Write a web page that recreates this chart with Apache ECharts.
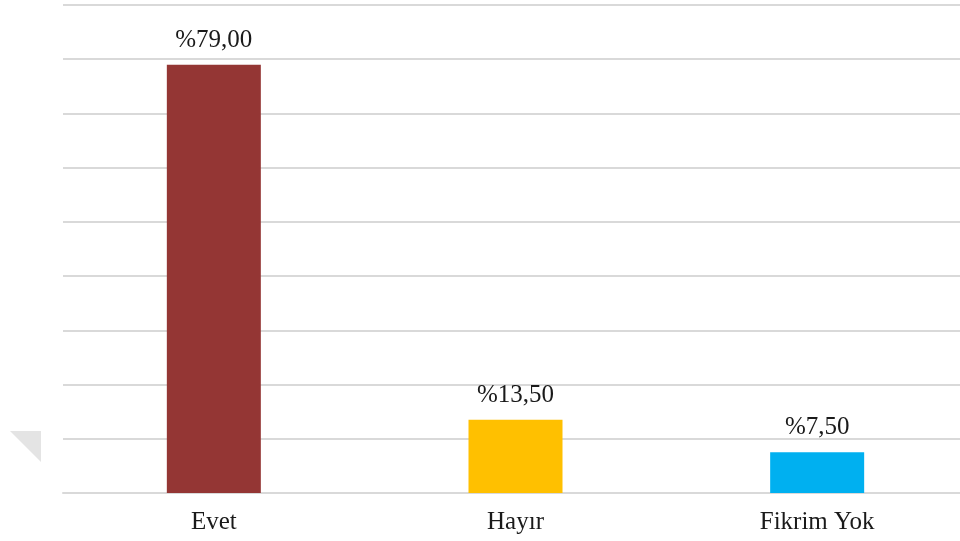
<!DOCTYPE html>
<html>
<head>
<meta charset="utf-8">
<script src="https://cdn.jsdelivr.net/npm/echarts@6/dist/echarts.min.js"></script>
<style>
  html, body { margin: 0; padding: 0; background: #ffffff; }
  #chart { width: 960px; height: 541px; }
</style>
</head>
<body>
<div id="chart"></div>
<script>
// Survey answers and their percentage shares
const categories = ['Evet', 'Hayır', 'Fikrim Yok'];
const values = [79.00, 13.50, 7.50];
const barColors = ['#943634', '#FFC000', '#00B0F0'];

const chart = echarts.init(document.getElementById('chart'), null, { renderer: 'canvas' });

const fmt = v => '%' + v.toFixed(2).replace('.', ',');

chart.setOption({
  animation: false,
  backgroundColor: '#ffffff',
  // plot area runs slightly past the right edge of the canvas
  grid: { left: 63, width: 905, top: 5, bottom: 48, containLabel: false, outerBoundsMode: 'none' },
  xAxis: {
    type: 'category',
    data: categories,
    axisTick: { show: false },
    axisLine: { show: true, lineStyle: { color: '#d9d9d9', width: 2 } },
    axisLabel: {
      margin: 17,
      color: '#1a1a1a',
      fontFamily: '"Liberation Serif", "Times New Roman", serif',
      fontSize: 25
    }
  },
  yAxis: {
    type: 'value',
    min: 0,
    max: 90,
    interval: 10,
    axisLabel: { show: false },
    axisLine: { show: false },
    axisTick: { show: false },
    splitLine: { show: true, lineStyle: { color: '#d9d9d9', width: 2 } }
  },
  series: [{
    type: 'bar',
    barWidth: 94,
    data: values.map((v, i) => ({ value: v, itemStyle: { color: barColors[i] } })),
    label: {
      show: true,
      position: 'top',
      distance: 12,
      color: '#1a1a1a',
      fontFamily: '"Liberation Serif", "Times New Roman", serif',
      fontSize: 25,
      formatter: p => fmt(p.value)
    }
  }],
  graphic: [{
    type: 'polygon',
    silent: true,
    shape: { points: [[10, 431], [41, 431], [41, 462]] },
    style: { fill: '#e4e4e4' }
  }]
});
</script>
</body>
</html>
